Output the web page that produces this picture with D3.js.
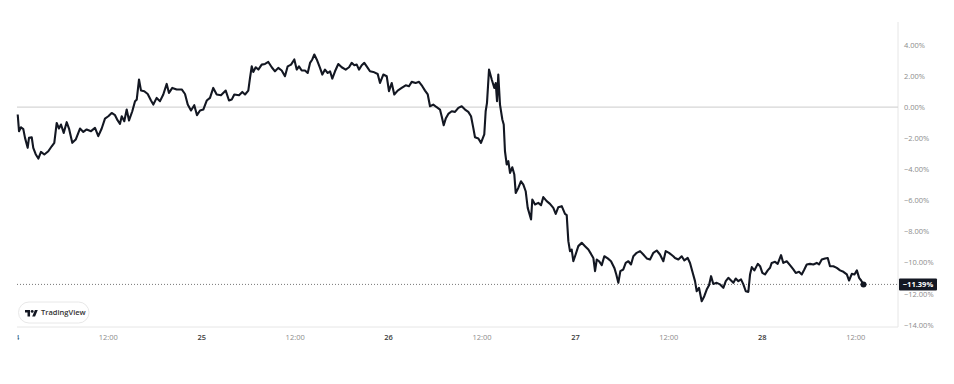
<!DOCTYPE html>
<html><head><meta charset="utf-8">
<script src="https://cdn.jsdelivr.net/npm/d3@7"></script>
<style>html,body{margin:0;padding:0;background:#fff;}svg{display:block;}</style>
</head><body>
<svg id="chart" width="954" height="384"></svg>
<script>
// hours since day 24 00:00
const hours = [0.36,0.53,0.78,1.08,1.30,1.64,1.81,2.16,2.36,2.67,3.01,3.35,3.78,4.29,4.73,5.06,5.37,5.66,5.92,6.27,6.65,6.95,7.37,7.81,8.36,8.79,9.22,9.78,10.29,10.71,11.15,11.57,12.00,12.43,12.86,13.20,13.50,13.72,14.05,14.36,14.66,15.08,15.43,15.65,15.94,16.20,16.62,17.06,17.48,17.78,18.21,18.64,19.06,19.50,19.79,20.22,20.78,21.43,21.85,22.20,22.62,23.04,23.39,23.78,24.20,24.64,25.06,25.48,25.92,26.47,27.08,27.50,27.85,28.18,
28.79,29.21,29.56,29.98,30.20,30.42,30.62,30.93,31.27,31.70,32.13,32.55,32.99,33.41,33.83,34.27,34.69,35.04,35.47,35.89,36.20,36.49,36.84,37.26,37.61,37.91,38.20,38.46,38.77,39.19,39.49,39.83,40.18,40.48,40.77,41.12,41.54,41.98,42.49,42.92,43.26,43.60,43.91,44.20,44.55,44.88,45.32,45.61,46.04,46.60,46.90,47.32,47.76,48.05,48.40,48.73,49.17,49.68,50.20,50.62,50.97,51.48,51.91,52.33,52.68,53.03,53.32,53.74,54.18,54.60,54.82,55.08,55.34,55.67,56.11,56.53,
56.96,57.39,57.82,58.24,58.59,58.88,59.10,59.53,59.87,60.29,60.47,60.64,60.90,61.25,61.58,61.76,61.93,62.09,62.31,62.61,62.79,62.95,63.17,63.38,63.60,63.89,64.15,64.33,64.66,65.01,65.31,65.61,65.87,66.30,66.46,66.81,67.23,67.58,67.87,68.31,68.73,69.16,69.47,69.80,70.24,70.66,70.88,71.09,71.30,71.52,71.73,71.95,72.37,72.81,73.23,73.66,74.00,74.30,74.52,74.74,75.03,75.38,75.71,76.15,76.57,77.00,77.25,77.51,77.77,78.15,78.46,78.80,79.14,79.44,79.87,80.30,80.72,81.16,81.58,82.01,82.44,82.86,83.29,83.60,84.02,84.57,
84.79,85.22,85.65,85.99,86.42,86.72,87.01,87.36,87.58,87.87,88.22,88.55,88.86,89.16,89.42,89.71,90.15,90.58,91.00,91.31,91.64,91.99,92.29,92.59,92.93,93.27,93.57,93.88,94.21,94.43,94.65,94.98,95.42,95.72,96.01,96.36,96.70,97.00,97.21,97.64,97.98,98.41,98.70,99.14,99.56,99.99,100.30,100.72,101.07,101.40,101.71,102.13,102.56,102.99,103.29,103.64,104.06,104.41,104.70,105.13,105.57,105.99,106.42,106.86,107.15,107.50,107.84,108.15,108.44,108.70,109.00];
// percent change
const pct = [-0.47,-1.54,-1.29,-1.41,-1.97,-2.61,-1.97,-1.93,-2.61,-3.02,-3.30,-2.87,-3.04,-2.83,-2.51,-2.29,-1.01,-1.37,-1.11,-1.65,-0.96,-1.37,-2.29,-2.08,-1.37,-1.59,-1.43,-1.54,-1.33,-1.86,-1.37,-0.73,-0.58,-0.37,-0.51,-0.85,-1.07,-0.58,-0.90,-0.15,-0.85,-0.26,0.39,0.49,1.78,1.07,1.03,0.85,0.43,0.17,0.60,0.39,0.82,1.50,0.92,1.24,1.14,1.14,0.85,0.17,-0.21,0.13,-0.51,-0.21,-0.15,0.43,0.60,1.24,0.82,0.77,1.07,0.43,0.49,0.82,
0.77,0.98,0.82,1.07,1.88,2.63,2.27,2.57,2.42,2.74,2.78,2.91,2.57,2.31,2.53,2.36,1.99,2.63,2.74,3.07,2.42,2.63,2.36,2.36,2.20,2.85,3.07,3.39,3.07,2.53,2.10,2.42,2.20,2.31,1.84,2.31,2.78,2.57,2.42,2.57,2.85,2.70,2.74,2.42,2.70,2.85,2.53,2.31,2.27,2.14,1.56,2.10,1.99,1.03,1.56,0.82,1.07,1.24,1.41,1.35,1.63,1.56,1.63,1.35,1.07,0.82,0.06,0.17,0.00,-0.15,-0.58,-1.16,-0.73,-0.43,-0.26,-0.30,
-0.04,0.06,-0.15,-0.30,-0.58,-1.33,-1.93,-2.01,-2.29,-1.75,-0.26,0.28,2.42,1.78,1.24,1.56,0.39,2.10,0.17,-0.79,-1.11,-2.83,-3.68,-3.47,-4.22,-3.86,-4.33,-5.51,-5.19,-4.76,-4.97,-5.40,-6.47,-7.22,-5.93,-6.25,-6.15,-6.30,-5.78,-6.04,-6.21,-6.47,-6.86,-6.43,-6.36,-6.86,-6.94,-8.61,-9.25,-9.15,-9.90,-9.58,-8.93,-8.72,-8.93,-9.15,-9.43,-9.69,-10.54,-9.79,-9.90,-10.15,-9.58,-9.72,-9.90,-10.33,-10.75,-11.29,-10.54,-10.43,-10.01,-9.90,-10.11,-9.58,-9.36,-9.25,-9.47,-9.72,-9.79,-9.36,-9.21,-9.47,-9.90,-9.25,-9.36,-9.58,
-9.69,-9.79,-9.58,-9.85,-9.69,-10.01,-10.54,-11.18,-11.83,-11.61,-12.47,-12.15,-11.72,-11.44,-10.86,-11.36,-11.29,-11.39,-11.61,-11.18,-10.97,-11.14,-11.29,-11.01,-11.18,-11.07,-11.39,-11.83,-11.87,-10.75,-10.28,-10.49,-10.07,-10.22,-10.65,-10.75,-10.49,-10.32,-10.01,-9.94,-10.07,-9.51,-10.01,-9.90,-10.15,-10.43,-10.65,-10.58,-10.75,-10.43,-10.11,-10.07,-10.11,-10.01,-10.11,-9.79,-9.72,-9.69,-10.22,-10.22,-10.33,-10.49,-10.58,-10.75,-11.14,-10.71,-10.75,-10.49,-10.97,-11.14,-11.39];
const lastValue = -11.39;
const xTickHours = [0,12,24,36,48,60,72,84,96,108];
const xTickLabels = ["24","12:00","25","12:00","26","12:00","27","12:00","28","12:00"];
const yTicks = [4,2,0,-2,-4,-6,-8,-10,-12,-14];

const svg = d3.select("#chart");
const left = 17, right = 898, bottom = 327;
const x = d3.scaleLinear().domain([0,108]).range([14.9, 855.7]);
const y = d3.scaleLinear().domain([4,-14]).range([45,325]);
const font = "'Open Sans', 'DejaVu Sans', sans-serif";

// borders
svg.append("line").attr("x1",right).attr("x2",right).attr("y1",22).attr("y2",bottom)
  .attr("stroke","#e6e6e6").attr("stroke-width",1);
svg.append("line").attr("x1",left).attr("x2",right).attr("y1",bottom).attr("y2",bottom)
  .attr("stroke","#e6e6e6").attr("stroke-width",1);

// zero line
svg.append("line").attr("x1",left).attr("x2",right).attr("y1",y(0)).attr("y2",y(0))
  .attr("stroke","#d6d6d6").attr("stroke-width",1.2);

// last value dotted line
svg.append("line").attr("x1",left).attr("x2",right).attr("y1",y(lastValue)).attr("y2",y(lastValue))
  .attr("stroke","#777").attr("stroke-width",1).attr("stroke-dasharray","1,2");

// y axis labels
svg.append("g").selectAll("text").data(yTicks).join("text")
  .attr("x",904).attr("y",d=>y(d)).attr("dy","0.35em")
  .attr("font-family",font).attr("font-size",7.5).attr("fill","#8c8c8c")
  .text(d=>(d<0?"\u2212":"")+Math.abs(d).toFixed(2)+"%");

// x axis labels
svg.append("clipPath").attr("id","xclip").append("rect").attr("x",17.6).attr("y",328).attr("width",920).attr("height",20);
svg.append("g").attr("clip-path","url(#xclip)").selectAll("text").data(xTickHours).join("text")
  .attr("x",d=>x(d)).attr("y",337).attr("dy","0.35em").attr("text-anchor","middle")
  .attr("font-family",font).attr("font-size",7.5)
  .attr("font-weight",(d,i)=>i%2===0?600:400)
  .attr("fill",(d,i)=>i%2===0?"#3a3a3a":"#8c8c8c")
  .text((d,i)=>xTickLabels[i]);

// line
const data = hours.map((h,i)=>[h,pct[i]]);
svg.append("path").datum(data)
  .attr("fill","none").attr("stroke","#131722").attr("stroke-width",2.1).attr("stroke-linejoin","round")
  .attr("d", d3.line().x(d=>x(d[0])).y(d=>y(d[1])));

// end dot
svg.append("circle").attr("cx",x(hours[hours.length-1])).attr("cy",y(lastValue)).attr("r",3).attr("fill","#131722");

// last value label
svg.append("rect").attr("x",899).attr("y",y(lastValue)-6).attr("width",38).attr("height",12).attr("fill","#131722").attr("rx",1);
svg.append("text").attr("x",918).attr("y",y(lastValue)).attr("dy","0.35em").attr("text-anchor","middle")
  .attr("font-family",font).attr("font-size",7.5).attr("font-weight",700).attr("fill","#fff")
  .text("\u2212"+Math.abs(lastValue).toFixed(2)+"%");

// TradingView badge
const badge = svg.append("g");
badge.append("rect").attr("x",18.5).attr("y",302).attr("width",70.5).attr("height",21).attr("rx",10.5)
  .attr("fill","#fff").attr("stroke","#e8e8e8").attr("stroke-width",1);
badge.append("path").attr("transform","translate(25,308.5) scale(0.36)")
  .attr("d","M14 22H7V11H0V4h14v18zM28 22h-8l7.5-18h8L28 22z").attr("fill","#131722");
badge.append("circle").attr("cx",25+20*0.36).attr("cy",308.5+8*0.36).attr("r",4*0.36).attr("fill","#131722");
badge.append("text").attr("x",41).attr("y",312.8).attr("dy","0.35em")
  .attr("font-family",font).attr("font-size",7.5).attr("font-weight",600).attr("fill","#333")
  .text("TradingView");
</script>
</body></html>
